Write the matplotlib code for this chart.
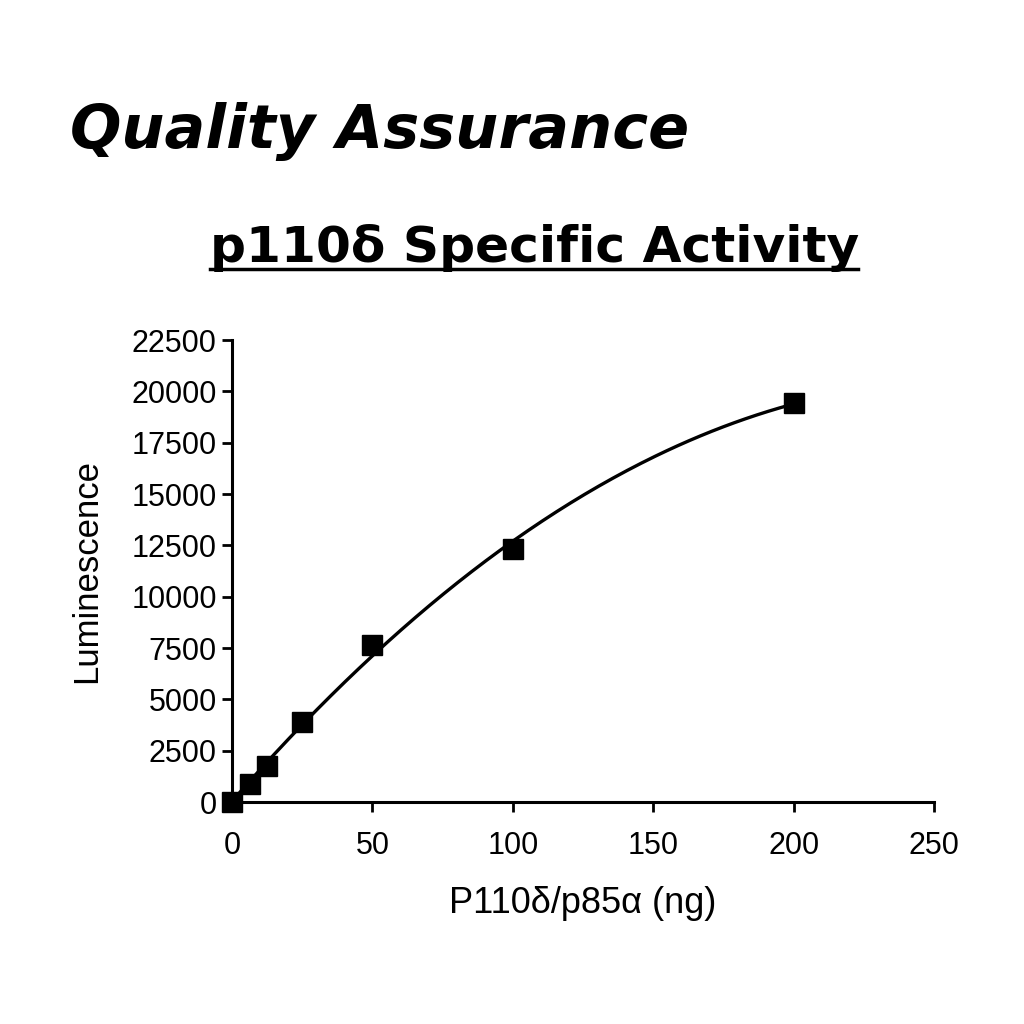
import numpy as np
import matplotlib
matplotlib.use("Agg")
import matplotlib.pyplot as plt
from matplotlib.lines import Line2D

# Data
amount_ng = [0, 6.25, 12.5, 25, 50, 100, 200]
luminescence = [0, 900, 1750, 3900, 7650, 12300, 19450]
x_ticks = [0, 50, 100, 150, 200, 250]
y_ticks = [0, 2500, 5000, 7500, 10000, 12500, 15000, 17500, 20000, 22500]

title_text = "Quality Assurance"
subtitle_text = "p110\u03b4 Specific Activity"
xlabel_text = "P110\u03b4/p85\u03b1 (ng)"
ylabel_text = "Luminescence"

W = H = 1024
fig = plt.figure(figsize=(10.24, 10.24), dpi=100)
fig.patch.set_facecolor("white")

ax = fig.add_axes([232 / W, 1 - 802 / H, (934 - 232) / W, (802 - 340) / H])
ax.set_xlim(0, 250)
ax.set_ylim(0, 22500)

# fitted curve (quadratic least-squares fit of the data)
coef = np.polyfit(amount_ng, luminescence, 2)
xf = np.linspace(min(amount_ng), max(amount_ng), 200)
ax.plot(xf, np.polyval(coef, xf), color="black", lw=2.4, zorder=2, clip_on=False)
ax.plot(amount_ng, luminescence, ls="none", marker="s", ms=15, color="black",
        zorder=3, clip_on=False)

for s in ["top", "right"]:
    ax.spines[s].set_visible(False)
for s in ["left", "bottom"]:
    ax.spines[s].set_linewidth(2.2)
ax.set_xticks(x_ticks)
ax.set_yticks(y_ticks)
ax.tick_params(direction="out", length=7, width=2)
tick_font = dict(family="Liberation Sans", size=22)
ax.set_xticklabels([str(t) for t in x_ticks], **tick_font)
ax.set_yticklabels([str(t) for t in y_ticks], **tick_font)
ax.xaxis.set_tick_params(pad=14)
ax.yaxis.set_tick_params(pad=4)

ax.set_xlabel(xlabel_text, family="Liberation Sans", size=26, labelpad=18)
ax.set_ylabel(ylabel_text, family="Liberation Sans", size=25, labelpad=20)

# Titles
renderer = fig.canvas.get_renderer()
t1 = fig.text(70 / W, 1 - 148 / H, title_text, family="DejaVu Sans",
              weight="bold", style="italic", size=40, ha="left", va="baseline")
bb = t1.get_window_extent(renderer)
t1.set_fontsize(40 * 618 / bb.width)

t2 = fig.text(210 / W, 1 - 262 / H, subtitle_text, family="DejaVu Sans",
              weight="bold", size=30, ha="left", va="baseline")
bb = t2.get_window_extent(renderer)
t2.set_fontsize(30 * 648 / bb.width)
fig.add_artist(Line2D([210 / W, 858 / W], [1 - 269 / H, 1 - 269 / H],
                      color="black", lw=2.5, transform=fig.transFigure))

fig.savefig("out.png", dpi=100, facecolor="white")
